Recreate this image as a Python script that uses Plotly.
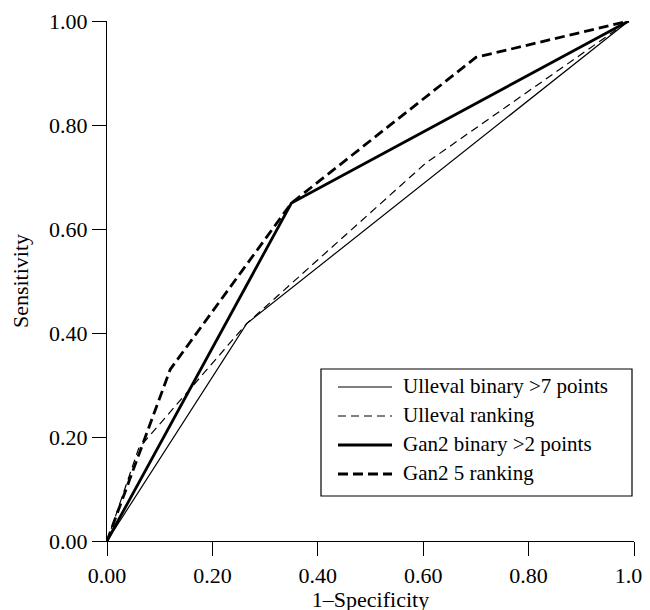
import plotly.graph_objects as go

# ---- data ----
series_names = ["Ulleval binary >7 points", "Ulleval ranking",
                "Gan2 binary >2 points", "Gan2 5 ranking"]
ulleval_binary_x = [0.0, 0.265, 0.99]
ulleval_binary_y = [0.0, 0.418, 1.0]
ulleval_ranking_x = [0.0, 0.06, 0.265, 0.604, 0.99]
ulleval_ranking_y = [0.0, 0.178, 0.418, 0.726, 1.0]
gan2_binary_x = [0.0, 0.35, 0.99]
gan2_binary_y = [0.0, 0.65, 1.0]
gan2_ranking_x = [0.0, 0.12, 0.35, 0.70, 0.99]
gan2_ranking_y = [0.0, 0.33, 0.65, 0.93, 1.0]
tick_values = [0.0, 0.2, 0.4, 0.6, 0.8, 1.0]
tick_labels = ["0.00", "0.20", "0.40", "0.60", "0.80", "1.00"]

# ---- styles ----
styles = [
    dict(width=1.2, dash="solid"),
    dict(width=1.2, dash="8px,5px"),
    dict(width=2.8, dash="solid"),
    dict(width=2.8, dash="10px,5px"),
]
xs = [ulleval_binary_x, ulleval_ranking_x, gan2_binary_x, gan2_ranking_x]
ys = [ulleval_binary_y, ulleval_ranking_y, gan2_binary_y, gan2_ranking_y]

FONT = "Liberation Serif, Times New Roman, serif"
W, H = 650, 610
OFF = 8  # page body margin shifts the figure by 8px
# plot area in window pixels: x 107..634, y 21..541
ML = 107 - OFF
MT = 21 - OFF
MR = W - (634 - OFF)
MB = H - (541 - OFF)
PW, PH = W - ML - MR, H - MT - MB


def px2paper_x(px):
    return (px - OFF - ML) / PW


def px2paper_y(py):
    return (H - MB - (py - OFF)) / PH


fig = go.Figure()
for name, x, y, st in zip(series_names, xs, ys, styles):
    fig.add_trace(go.Scatter(
        x=x, y=y, mode="lines", name=name, showlegend=False,
        line=dict(color="black", width=st["width"], dash=st["dash"]),
    ))

# ---- manual legend (box, samples, labels) ----
shapes = [dict(type="rect", xref="paper", yref="paper",
               x0=px2paper_x(321), x1=px2paper_x(632),
               y0=px2paper_y(496), y1=px2paper_y(369),
               line=dict(color="black", width=1.2), fillcolor="white",
               layer="above")]
annotations = []
row_y = [387, 416, 445, 474]
for name, st, ry in zip(series_names, styles, row_y):
    shapes.append(dict(type="line", xref="paper", yref="paper",
                       x0=px2paper_x(338), x1=px2paper_x(392),
                       y0=px2paper_y(ry), y1=px2paper_y(ry),
                       line=dict(color="black", width=st["width"], dash=st["dash"]),
                       layer="above"))
    annotations.append(dict(xref="paper", yref="paper",
                            x=px2paper_x(401), y=px2paper_y(ry - 1),
                            xanchor="left", yanchor="middle", showarrow=False,
                            text=name, font=dict(family=FONT, size=21, color="black")))

axis_common = dict(
    range=[0, 1], tickvals=tick_values, ticktext=tick_labels,
    ticks="outside", ticklen=14, tickwidth=1.2, tickcolor="black",
    showline=True, linecolor="black", linewidth=1.2,
    showgrid=False, zeroline=False, automargin=False,
    ticklabeloverflow="allow",
    tickfont=dict(family=FONT, size=22, color="black"),
)

fig.update_layout(
    width=W, height=H,
    margin=dict(l=ML, r=MR, t=MT, b=MB, pad=0),
    paper_bgcolor="white", plot_bgcolor="white",
    font=dict(family=FONT, size=22, color="black"),
    xaxis=dict(**axis_common,
               title=dict(text="1–Specificity", standoff=3,
                          font=dict(family=FONT, size=22, color="black"))),
    yaxis=dict(**axis_common,
               title=dict(text="Sensitivity", standoff=15,
                          font=dict(family=FONT, size=22, color="black"))),
    shapes=shapes,
    annotations=annotations,
    showlegend=False,
)

fig.write_html("out.html")
